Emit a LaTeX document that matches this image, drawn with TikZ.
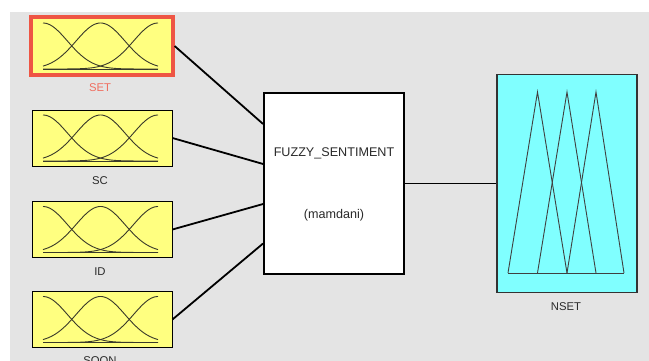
\documentclass[tikz,border=0pt]{standalone}
\usepackage{fontspec}
\setmainfont{Liberation Sans}
\definecolor{bggray}{HTML}{E4E4E4}
\definecolor{inyellow}{HTML}{FFFF80}
\definecolor{outcyan}{HTML}{80FFFF}
\definecolor{selred}{HTML}{EE5544}
\definecolor{txtgray}{HTML}{2A2A2A}
\definecolor{mfgray}{HTML}{3A3A2A}
\tikzset{
  inbox/.style={draw=black, line width=0.9pt, fill=inyellow, minimum width=140pt, minimum height=56pt, inner sep=0pt, rectangle},
  selbox/.style={draw=selred, line width=3.2pt, fill=inyellow, minimum width=142pt, minimum height=58pt, inner sep=0pt, rectangle},
  fisbox/.style={draw=black, line width=1.8pt, fill=white, minimum width=140pt, minimum height=181pt, inner sep=0pt, rectangle},
  outbox/.style={draw=black!80, line width=1.2pt, fill=outcyan, minimum width=140pt, minimum height=218pt, inner sep=0pt, rectangle},
  lbl/.style={text=txtgray, font=\fontsize{11.3}{13}\selectfont, inner sep=0pt},
  fistext/.style={text=txtgray, font=\fontsize{12.6}{15}\selectfont, inner sep=0pt},
  conn/.style={draw=black, line width=1.8pt},
  mf/.style={draw=mfgray, line width=0.9pt},
}
\newcommand{\gaussset}[2]{%
  \begin{scope}[shift={(#1,#2)}]
    \draw[mf] (-57.5,23) -- (57.5,23);
    \foreach \c in {-57.5,0,57.5}{
      \draw[mf] plot[domain=-57.5:57.5, samples=70, smooth] (\x, {23 - 46*exp(-((\x-\c)*(\x-\c))/1200.5)});
    }
  \end{scope}}
\begin{document}
\begin{tikzpicture}[x=1pt,y=-1pt]
\useasboundingbox (0,0) rectangle (649,361);
\clip (0,0) rectangle (649,361);
\fill[bggray] (10,12) rectangle (649,361);

% input boxes
\node[selbox] (set) at (102,46) {};
\node[inbox] (sc) at (102,138) {};
\node[inbox] (id) at (102,229.5) {};
\node[inbox] (soon) at (102,319.5) {};
\gaussset{100.5}{46}
\gaussset{100.5}{138}
\gaussset{100.5}{229.5}
\gaussset{100.5}{319.5}

\node[lbl, text=selred!85!white] (setl) at (100,88) {SET};
\node[lbl] (scl) at (100,181) {SC};
\node[lbl] (idl) at (100,272) {ID};
\node[lbl] (soonl) at (100,361) {SOON};

% FIS box
\node[fisbox] (fis) at (334,183.5) {};
\node[fistext] (fisname) at (334,153) {FUZZY\_SENTIMENT};
\node[fistext] (fistype) at (334,215) {(mamdani)};

% output box
\node[outbox] (nset) at (567,183.5) {};
\begin{scope}
  \draw[mf, line width=0.9pt, draw=black!75] (508,273) -- (624,273);
  \draw[mf, line width=0.9pt, draw=black!75] (508,273) -- (537.5,92) -- (567,273);
  \draw[mf, line width=0.9pt, draw=black!75] (537.5,273) -- (567,92) -- (596,273);
  \draw[mf, line width=0.9pt, draw=black!75] (567,273) -- (596,92) -- (624,273);
\end{scope}
\node[lbl] (nsetl) at (566,307) {NSET};

% connectors
\draw[conn] (set.east) -- ([yshift=59.5pt]fis.west);
\draw[conn] (sc.east) -- ([yshift=19.5pt]fis.west);
\draw[conn] (id.east) -- ([yshift=-20.5pt]fis.west);
\draw[conn] (soon.east) -- ([yshift=-60pt]fis.west);
\draw[conn] (fis.east) -- (nset.west);
\end{tikzpicture}
\end{document}
